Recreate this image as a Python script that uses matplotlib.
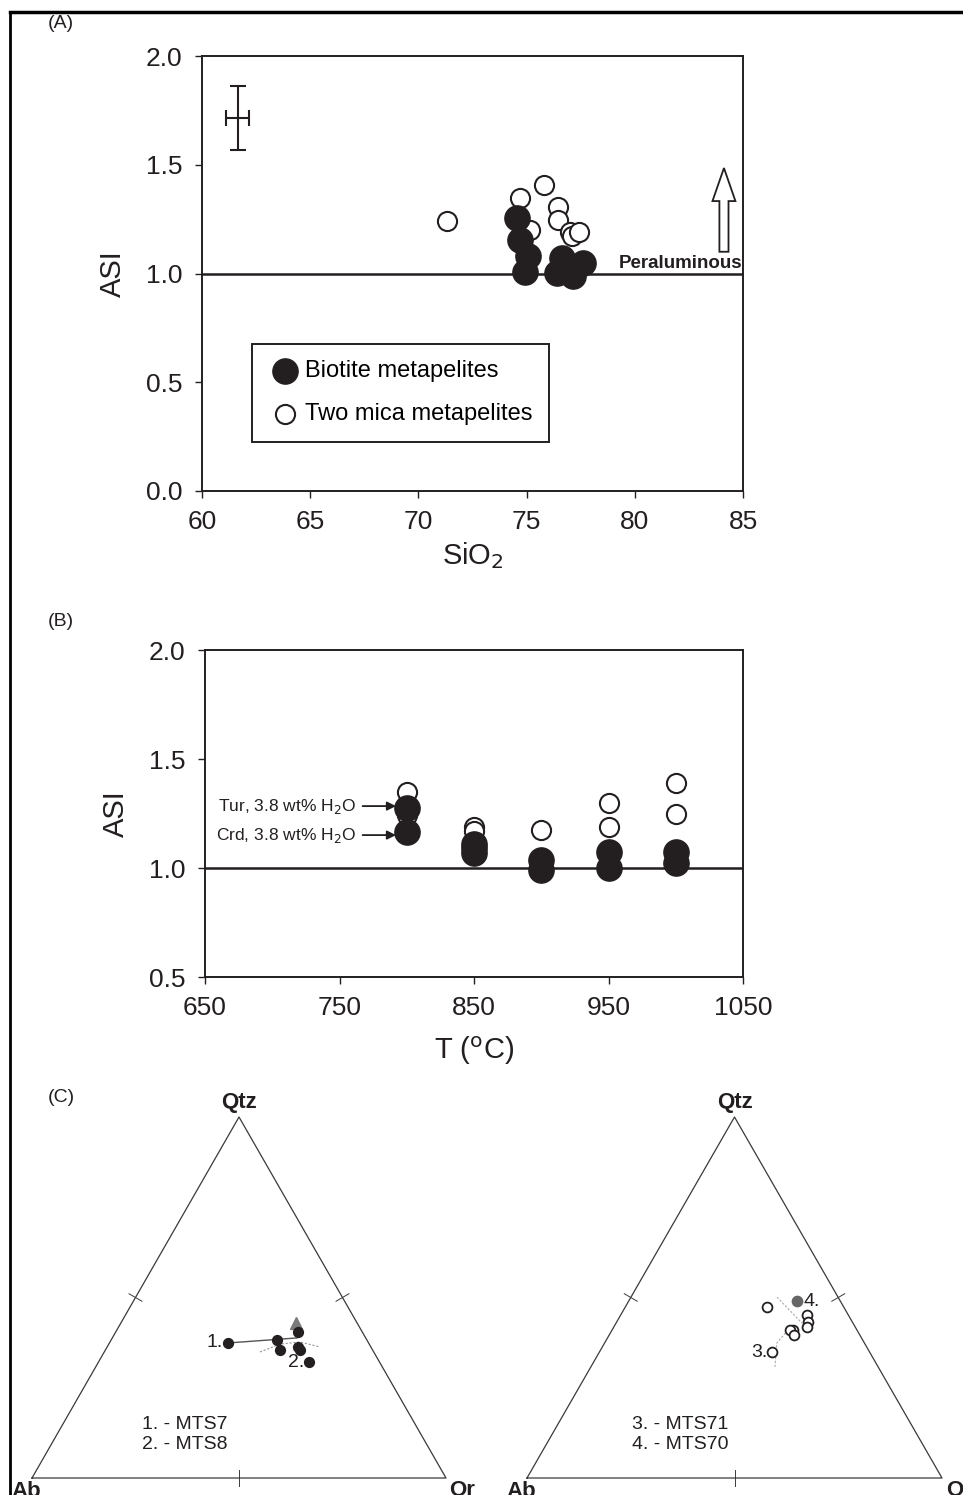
import numpy as np
import matplotlib
matplotlib.use("Agg")
import matplotlib.pyplot as plt
from matplotlib.lines import Line2D
from matplotlib.patches import Polygon

plt.rcParams['font.family'] = ['Liberation Sans', 'DejaVu Sans']

# ---- Panel A data: ASI vs SiO2 ----
bio_sio2 = [74.56, 74.70, 75.06, 74.93, 76.40, 76.64, 77.14, 77.61]
bio_asi = [1.255, 1.154, 1.080, 1.007, 1.002, 1.071, 0.989, 1.048]
two_sio2 = [71.32, 74.70, 75.80, 75.16, 76.45, 76.45, 77.00, 77.10, 77.42]
two_asi = [1.241, 1.347, 1.407, 1.200, 1.306, 1.246, 1.191, 1.172, 1.191]
err_x, err_y = 61.66, 1.715
err_dx, err_dy = 0.53, 0.145

# ---- Panel B data: ASI vs T ----
melt_T_bio = [800, 800, 850, 850, 850, 900, 900, 950, 950, 1000, 1000]
melt_asi_bio = [1.275, 1.165, 1.11, 1.09, 1.07, 1.037, 0.99, 1.073, 1.0, 1.073, 1.023]
melt_T_two = [800, 800, 850, 850, 900, 950, 950, 1000, 1000]
melt_asi_two = [1.349, 1.243, 1.188, 1.170, 1.174, 1.298, 1.188, 1.390, 1.248]

# ---- Panel C data: Qtz-Ab-Or compositions (wt%) ----
mts_bio_qtz = [37.4, 38.2, 35.5, 40.4, 36.3, 35.5, 32.1]
mts_bio_ab = [34.0, 21.7, 22.3, 15.6, 17.6, 17.5, 17.1]
mts_bio_or = [28.6, 40.1, 42.2, 44.0, 46.1, 47.0, 50.8]
bio_trend_qtz = [37.4, 38.8]
bio_trend_or = [28.6, 44.6]
bio_cot_qtz = [34.9, 37.1, 37.7, 36.3]
bio_cot_or = [37.6, 41.4, 45.9, 51.4]
bio_arrow_qtz, bio_arrow_or = 42.9, 42.3

mts_two_qtz = [47.4, 45.2, 43.2, 41.8, 41.0, 41.0, 39.6, 34.9]
mts_two_ab = [18.5, 9.9, 10.7, 11.6, 15.4, 16.1, 15.9, 23.5]
mts_two_or = [34.1, 44.9, 46.1, 46.6, 43.6, 42.9, 44.5, 41.6]
two_start_qtz, two_start_or = 49.0, 40.6
two_line1_qtz = [50.1, 42.9]
two_line1_or = [35.2, 44.8]
two_line2_qtz = [41.0, 37.4, 30.7]
two_line2_or = [42.4, 41.5, 44.4]

W, H = 963, 1495
fig = plt.figure(figsize=(W / 100, H / 100), dpi=100)
ink = '#231f20'


def pix_axes(l, t, r, b):
    return fig.add_axes([l / W, 1 - b / H, (r - l) / W, (b - t) / H])


def style(ax):
    for s in ax.spines.values():
        s.set_linewidth(1.4)
        s.set_color(ink)
    ax.tick_params(direction='out', length=5, width=1.0, labelsize=19, pad=9, colors=ink)


# frame lines of the figure
fig.add_artist(Line2D([10 / W, 1], [1 - 12 / H, 1 - 12 / H], color='black', lw=2.5))
fig.add_artist(Line2D([10 / W, 10 / W], [1 - 12 / H, 0], color='black', lw=2))

# ---- Panel A ----
ax = pix_axes(202, 56, 743, 491)
style(ax)
ax.set_xlim(60, 85)
ax.set_ylim(0, 2.0)
ax.set_xticks(range(60, 86, 5))
ax.set_yticks(np.arange(0, 2.01, 0.5))
ax.yaxis.set_major_formatter(matplotlib.ticker.FormatStrFormatter('%.1f'))
ax.axhline(1.0, color=ink, lw=1.8)
ax.scatter(two_sio2, two_asi, s=190, facecolors='white', edgecolors=ink, linewidths=1.5,
           label='Two mica metapelites', zorder=3)
ax.scatter(bio_sio2, bio_asi, s=330, color=ink, label='Biotite metapelites', zorder=4)
ax.errorbar(err_x, err_y, xerr=err_dx, yerr=err_dy, color=ink, lw=1.5, capsize=5.5, capthick=1.5)
# open arrow for peraluminous
ax_tip, ax_base = 1.485, 1.10
hb = ax_tip - 0.152
ax.add_patch(Polygon([[84.12, ax_tip], [84.12 + 0.53, hb], [84.12 + 0.21, hb], [84.12 + 0.21, ax_base],
                      [84.12 - 0.21, ax_base], [84.12 - 0.21, hb], [84.12 - 0.53, hb]],
                     closed=True, facecolor='white', edgecolor=ink, lw=1.3))
ax.text(84.98, 1.005, 'Peraluminous', ha='right', va='bottom', fontsize=13.5, fontweight='bold', color=ink)
h, l = ax.get_legend_handles_labels()
leg = ax.legend(h[::-1], l[::-1], loc='lower left', bbox_to_anchor=(0.092, 0.113), fontsize=17,
                frameon=True, fancybox=False, edgecolor=ink, framealpha=1, borderpad=0.7,
                labelspacing=0.9, handletextpad=0.15, handlelength=1.4, borderaxespad=0)
leg.get_frame().set_linewidth(1.4)
ax.set_ylabel('ASI', fontsize=21, labelpad=14, color=ink)
ax.set_xlabel('SiO$_2$', fontsize=21, labelpad=4, color=ink)
fig.text(61 / W, 1 - 23 / H, '(A)', fontsize=14, ha='center', va='center', color=ink)

# ---- Panel B ----
bx = pix_axes(205, 650, 743, 977)
style(bx)
bx.set_xlim(650, 1050)
bx.set_ylim(0.5, 2.0)
bx.set_xticks(range(650, 1051, 100))
bx.set_yticks(np.arange(0.5, 2.01, 0.5))
bx.yaxis.set_major_formatter(matplotlib.ticker.FormatStrFormatter('%.1f'))
bx.axhline(1.0, color=ink, lw=1.8)
bx.scatter(melt_T_two, melt_asi_two, s=190, facecolors='white', edgecolors=ink, linewidths=1.5, zorder=3)
bx.scatter(melt_T_bio, melt_asi_bio, s=330, color=ink, zorder=4)
for lab, yv in [('Tur, 3.8 wt% H$_2$O', 1.284), ('Crd, 3.8 wt% H$_2$O', 1.151)]:
    bx.annotate(lab, xy=(792, yv), xytext=(762, yv), ha='right', va='center', fontsize=12.5, color=ink,
                arrowprops=dict(arrowstyle='-|>', color=ink, lw=1.3, shrinkA=3, shrinkB=0,
                                mutation_scale=13))
bx.set_ylabel('ASI', fontsize=21, labelpad=14, color=ink)
bx.set_xlabel('T ($^{\\rm o}$C)', fontsize=21, labelpad=10, color=ink)
fig.text(61 / W, 1 - 622 / H, '(B)', fontsize=14, ha='center', va='center', color=ink)

# ---- Panel C ----
fig.text(61 / W, 1 - 1098 / H, '(C)', fontsize=14, ha='center', va='center', color=ink)
r3 = np.sqrt(3) / 2


def tern(q, o):
    q = np.asarray(q, float) / 100
    o = np.asarray(o, float) / 100
    return o + q / 2, q * r3


def triangle(ax, right_label):
    ax.set_xlim(0, 1)
    ax.set_ylim(0, r3)
    ax.axis('off')
    ax.plot([0, 1, 0.5, 0], [0, 0, r3, 0], color='#3a3a3a', lw=0.9, clip_on=False)
    tl = 0.018
    ax.plot([0.5, 0.5], [-tl, tl], color='#3a3a3a', lw=0.7, clip_on=False)
    for sx in (0.25, 0.75):
        nx = -0.866 if sx < 0.5 else 0.866
        ax.plot([sx - nx * tl, sx + nx * tl], [r3 / 2 - 0.5 * tl, r3 / 2 + 0.5 * tl],
                color='#3a3a3a', lw=0.7, clip_on=False)
    ax.text(0.5, r3 + 0.01, 'Qtz', ha='center', va='bottom', fontsize=16, fontweight='bold', color=ink)
    ax.text(-0.015, -0.006, 'Ab', ha='center', va='top', fontsize=16, fontweight='bold', color=ink)
    ax.text(1.04, -0.004, right_label, ha='center', va='top', fontsize=16, fontweight='bold', color=ink)


cl = pix_axes(32, 1117, 446, 1478)
triangle(cl, 'Or')
x, y = tern(bio_cot_qtz, bio_cot_or)
cl.plot(x, y, color='#999999', lw=0.8, ls=(0, (2, 1.5)))
x, y = tern(bio_trend_qtz, bio_trend_or)
cl.plot(x, y, color='#555555', lw=1.0)
x, y = tern(bio_arrow_qtz, bio_arrow_or)
cl.plot(x, y, marker='^', ms=9, color='#7a7a7a', zorder=2)
x, y = tern(mts_bio_qtz, mts_bio_or)
cl.scatter(x, y, s=50, color=ink, zorder=3)
cl.text(x[0] - 0.012, y[0], '1.', ha='right', va='center', fontsize=14, color=ink)
cl.text(x[-1] - 0.012, y[-1], '2.', ha='right', va='center', fontsize=14, color=ink)
cl.text(0.37, 0.105, '1. - MTS7\n2. - MTS8', ha='center', va='center', fontsize=14,
        linespacing=1.25, color=ink)

cr = pix_axes(527, 1117, 942, 1478)
triangle(cr, 'Or')
for qq, oo in [(two_line1_qtz, two_line1_or), (two_line2_qtz, two_line2_or)]:
    x, y = tern(qq, oo)
    cr.plot(x, y, color='#aaaaaa', lw=0.8, ls=(0, (2, 1.5)))
x, y = tern(two_start_qtz, two_start_or)
cr.scatter(x, y, s=55, color='#666666', zorder=3)
cr.text(x + 0.015, y, '4.', ha='left', va='center', fontsize=14, color=ink)
x, y = tern(mts_two_qtz, mts_two_or)
cr.scatter(x, y, s=50, facecolors='white', edgecolors=ink, linewidths=1.3, zorder=4)
cr.text(x[-1] - 0.012, y[-1], '3.', ha='right', va='center', fontsize=14, color=ink)
cr.text(0.37, 0.105, '3. - MTS71\n4. - MTS70', ha='center', va='center', fontsize=14,
        linespacing=1.25, color=ink)

fig.savefig('out.png', dpi=100)
